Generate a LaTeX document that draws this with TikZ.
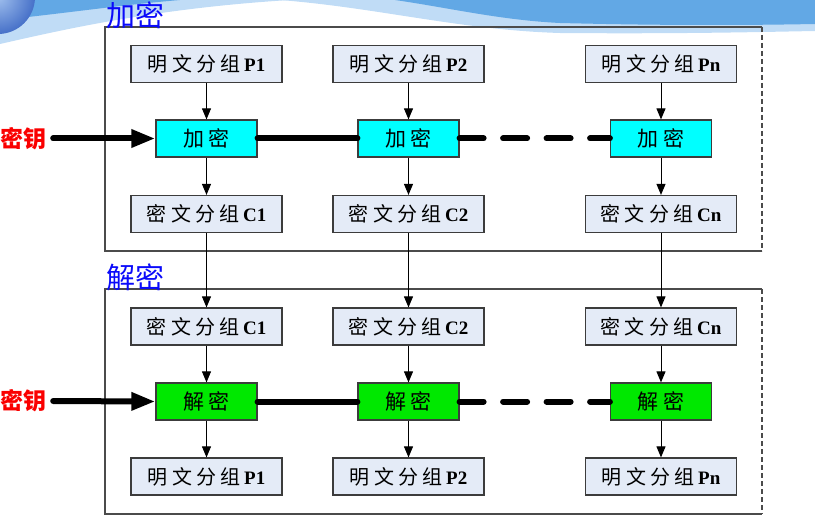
\documentclass[tikz,border=0pt]{standalone}
\usepackage{fontspec}
\usepackage{tikz}
\usetikzlibrary{arrows.meta,positioning}
\setmainfont{Liberation Serif}
\newfontfamily\cjk[LetterSpace=22]{Noto Sans CJK SC}
\newfontfamily\cjktitle{Noto Sans CJK SC}
\definecolor{boxfill}{RGB}{228,235,247}
\definecolor{boxline}{RGB}{60,60,60}
\definecolor{enccyan}{RGB}{0,255,255}
\definecolor{decgreen}{RGB}{0,232,0}
\definecolor{framegray}{RGB}{75,75,75}
\definecolor{titleblue}{RGB}{10,10,250}
\definecolor{keyred}{RGB}{250,0,0}
\definecolor{bandlight}{RGB}{192,220,246}
\definecolor{banddark}{RGB}{98,168,229}
\definecolor{sphlight}{RGB}{160,192,238}
\definecolor{sphdark}{RGB}{70,112,200}
\newcommand{\grp}[2]{{\cjk #1}\,{\fontsize{19}{19}\selectfont\bfseries #2}}

\begin{document}
\begin{tikzpicture}[x=1pt,y=-1pt,
  txtbox/.style={draw=boxline, fill=boxfill, line width=1.2pt, minimum width=151pt,
    minimum height=37pt, inner sep=0pt, font=\fontsize{20}{20}\selectfont},
  encbox/.style={txtbox, fill=enccyan, minimum width=101pt, font=\fontsize{21}{21}\selectfont\cjk},
  decbox/.style={encbox, fill=decgreen},
  flow/.style={-{Triangle[length=11pt,width=9pt]}, line width=1pt},
  keyline/.style={line width=6pt, line cap=round},
  keyarrow/.style={keyline, -{Triangle[length=24pt,width=17pt]}, shorten <=6pt},
  frame/.style={draw=framegray, line width=1.2pt},
  title/.style={text=titleblue, font=\fontsize{29}{29}\selectfont\cjktitle, inner sep=0pt},
  keylabel/.style={text=keyred, font=\fontsize{23}{23}\selectfont\cjktitle\bfseries, inner sep=0pt}]
\useasboundingbox (0,0) rectangle (815,524);

% slide background swoosh
\begin{scope}
\clip (0,0) rectangle (815,524);
\fill[bandlight] (0,0) -- (0,44) .. controls (70,28) and (160,8) .. (290,0) -- cycle;
\fill[bandlight] (280,0) .. controls (380,8) and (460,30) .. (560,33) .. controls (680,34) and (760,32) .. (815,31) -- (815,0) -- cycle;
\fill[banddark] (0,0) -- (0,20) .. controls (60,14) and (120,5) .. (180,0) -- cycle;
\fill[banddark] (395,0) .. controls (450,8) and (500,20) .. (560,23) .. controls (680,26) and (760,25) .. (815,24) -- (815,0) -- cycle;
\shade[inner color=sphlight, outer color=sphdark] (-2,-3) circle (37pt);
\end{scope}

% frames
\draw[frame] (762,27) -- (105,27) -- (105,251) -- (762,251);
\draw[frame, dash pattern=on 5pt off 3pt] (762,27) -- (762,251);
\draw[frame] (762,289) -- (105,289) -- (105,514) -- (762,514);
\draw[frame, dash pattern=on 5pt off 3pt] (762,289) -- (762,514);
\node[title] (enctitle) at (135,15) {加密};
\node[title] (dectitle) at (135,277) {解密};

% encryption
\node[txtbox] (p1) at (206.5,64) {\grp{明文分组}{P1}};
\node[txtbox] (p2) at (408.5,64) {\grp{明文分组}{P2}};
\node[txtbox] (pn) at (661,64) {\grp{明文分组}{Pn}};
\node[encbox] (e1) at (206.5,138.5) {加密};
\node[encbox] (e2) at (408.5,138.5) {加密};
\node[encbox] (en) at (661,138.5) {加密};
\node[txtbox] (c1) at (206.5,214) {\grp{密文分组}{C1}};
\node[txtbox] (c2) at (408.5,214) {\grp{密文分组}{C2}};
\node[txtbox] (cn) at (661,214) {\grp{密文分组}{Cn}};

% decryption
\node[txtbox] (dc1) at (206.5,326.5) {\grp{密文分组}{C1}};
\node[txtbox] (dc2) at (408.5,326.5) {\grp{密文分组}{C2}};
\node[txtbox] (dcn) at (661,326.5) {\grp{密文分组}{Cn}};
\node[decbox] (d1) at (206.5,401.5) {解密};
\node[decbox] (d2) at (408.5,401.5) {解密};
\node[decbox] (dn) at (661,401.5) {解密};
\node[txtbox] (dp1) at (206.5,476.5) {\grp{明文分组}{P1}};
\node[txtbox] (dp2) at (408.5,476.5) {\grp{明文分组}{P2}};
\node[txtbox] (dpn) at (661,476.5) {\grp{明文分组}{Pn}};

% keys
\node[keylabel] (key1) at (24,138.5) {密钥};
\node[keylabel] (key2) at (24,401) {密钥};
\draw[keyarrow] (key1.east) -- (e1.west);
\draw[keyarrow] (key2.east) -- (d1.west);
\draw[keyline] (e1.east) -- (e2.west);
\draw[keyline, dash pattern=on 24pt off 19.5pt] (e2.east) -- (en.west);
\draw[keyline] (d1.east) -- (d2.west);
\draw[keyline, dash pattern=on 24pt off 19.5pt] (d2.east) -- (dn.west);

% data flow
\draw[flow] (p1) -- (e1);
\draw[flow] (p2) -- (e2);
\draw[flow] (pn) -- (en);
\draw[flow] (e1) -- (c1);
\draw[flow] (e2) -- (c2);
\draw[flow] (en) -- (cn);
\draw[flow] (c1) -- (dc1);
\draw[flow] (c2) -- (dc2);
\draw[flow] (cn) -- (dcn);
\draw[flow] (dc1) -- (d1);
\draw[flow] (dc2) -- (d2);
\draw[flow] (dcn) -- (dn);
\draw[flow] (d1) -- (dp1);
\draw[flow] (d2) -- (dp2);
\draw[flow] (dn) -- (dpn);
\end{tikzpicture}
\end{document}
